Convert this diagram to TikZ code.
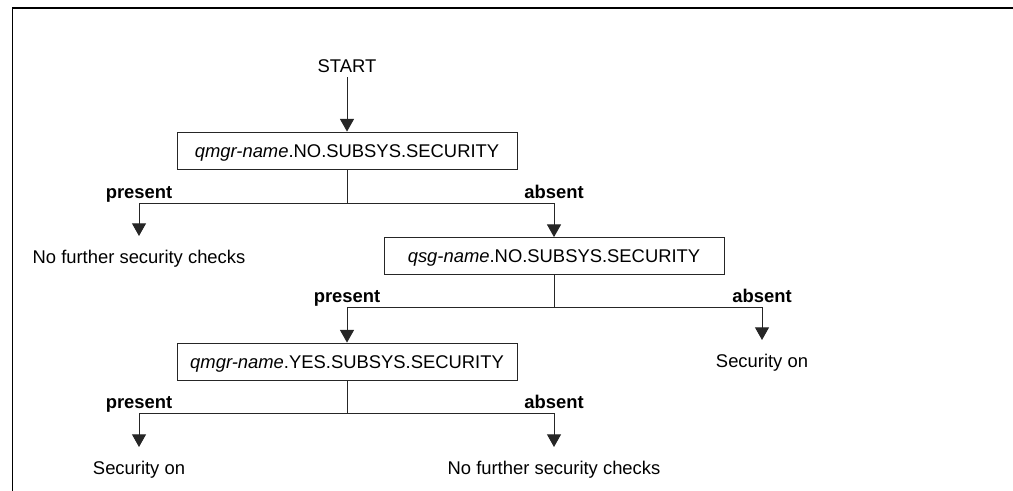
\documentclass[tikz,border=0pt]{standalone}
\usepackage{fontspec}
\setmainfont{Liberation Sans}
\usepackage{tikz}
\usetikzlibrary{arrows.meta}

\tikzset{
	every node/.style={font=\fontsize{13.8pt}{16pt}\selectfont},
	checkbox/.style={draw=black!85, line width=0.6pt, minimum width=255pt, minimum height=27.75pt, inner sep=0pt, text height=9.9pt, text depth=0pt},
	result/.style={anchor=north, inner xsep=0pt, inner ysep=10.5pt, text height=9.9pt, text depth=0pt},
	answer/.style={anchor=base, inner sep=0pt, font=\fontsize{13.8pt}{16pt}\selectfont\bfseries},
	conn/.style={draw=black!85, line width=0.75pt},
	arr/.style={conn, -{Triangle[width=10.5pt,length=9.5pt]}}
}

\begin{document}
\begin{tikzpicture}[x=0.75pt, y=-0.75pt]
	\useasboundingbox (0,0) rectangle (1013,491);
	\draw[line width=1.3pt] (12.5,491) |- (1013,8); % frame

	\begin{scope}
		\node[anchor=base] (start) at (347,72.3) {START};

		\node[checkbox] (qmgrno) at (347,150.5) {\textit{qmgr-name}.NO.SUBSYS.SECURITY};
		\node[checkbox] (qsgno) at (554,256) {\textit{qsg-name}.NO.SUBSYS.SECURITY};
		\node[checkbox] (qmgryes) at (347,361.5) {\textit{qmgr-name}.YES.SUBSYS.SECURITY};

		\node[result] (nocheckA) at (139,236) {No further security checks};
		\node[result] (seconA) at (762,340) {Security on};
		\node[result] (seconB) at (139,447) {Security on};
		\node[result] (nocheckB) at (554,447) {No further security checks};

		\coordinate (splitA) at (347,203.3);
		\coordinate (splitB) at (554,308);
		\coordinate (splitC) at (347,413);

		\node[answer] (presA) at (139,198.3) {present};
		\node[answer] (absA) at (554,198.3) {absent};
		\node[answer] (presB) at (347,303) {present};
		\node[answer] (absB) at (762,303) {absent};
		\node[answer] (presC) at (139,408) {present};
		\node[answer] (absC) at (554,408) {absent};

		\draw[arr] (start) -- (qmgrno); % start
		\draw[conn] (qmgrno) -- (splitA);
		\draw[arr] (splitA) -| (nocheckA); % present
		\draw[arr] (splitA) -| (qsgno); % absent

		\draw[conn] (qsgno) -- (splitB);
		\draw[arr] (splitB) -| (qmgryes); % present
		\draw[arr] (splitB) -| (seconA); % absent

		\draw[conn] (qmgryes) -- (splitC);
		\draw[arr] (splitC) -| (seconB); % present
		\draw[arr] (splitC) -| (nocheckB); % absent
	\end{scope}
\end{tikzpicture}
\end{document}
